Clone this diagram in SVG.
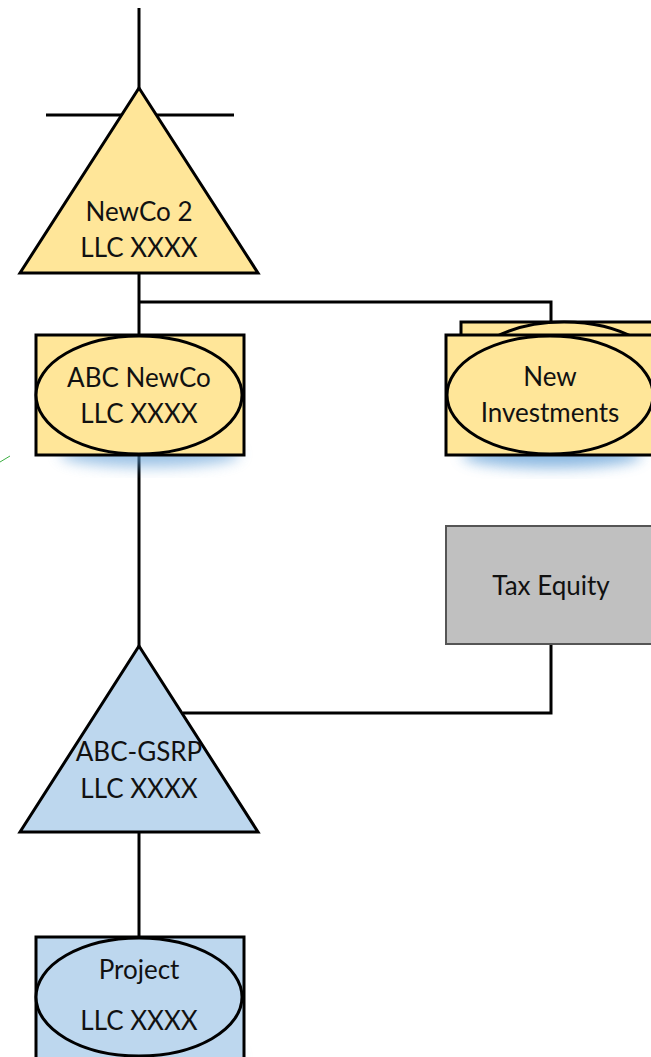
<svg xmlns="http://www.w3.org/2000/svg" width="651" height="1057" viewBox="0 0 651 1057">
  <style>
    .wire { fill: none; stroke: #000; stroke-width: 3; }
    .edge { stroke: #000; stroke-width: 3; }
    .gold { fill: #FFE699; }
    .sky { fill: #BDD7EE; }
    .label { font-family: Lato, "Open Sans", sans-serif; font-size: 26px; fill: #111; text-anchor: middle; }
  </style>
  <defs>
    <filter id="glow" x="-30%" y="-40%" width="160%" height="180%">
      <feGaussianBlur stdDeviation="7"/>
    </filter>
  </defs>
  <rect width="651" height="1057" fill="#fff"/>

  <!-- connectors -->
  <g id="connectors">
    <line class="wire" x1="139" y1="8" x2="139" y2="90"/>
    <line class="wire" x1="46" y1="115" x2="234" y2="115"/>
    <line class="wire" x1="139" y1="273" x2="139" y2="335"/>
    <polyline class="wire" points="139,302 551,302 551,322"/>
    <line class="wire" x1="139" y1="455" x2="139" y2="647"/>
    <polyline class="wire" points="183,713 551,713 551,644"/>
    <line class="wire" x1="139" y1="832" x2="139" y2="937"/>
    <line x1="0" y1="462" x2="10" y2="456" stroke="#3CB043" stroke-width="1"/>
  </g>

  <!-- NewCo 2 -->
  <g id="newco2">
    <polygon class="gold edge" points="139,88 258,273 20,273"/>
    <text class="label" x="139" y="221">NewCo 2</text>
    <text class="label" x="139" y="257">LLC XXXX</text>
  </g>

  <!-- ABC NewCo -->
  <g id="abc-newco">
    <ellipse cx="150" cy="454" rx="90" ry="13" fill="#5B9BD5" opacity="0.6" filter="url(#glow)"/>
    <rect class="gold edge" x="36" y="335" width="208" height="120"/>
    <ellipse class="gold edge" cx="139" cy="395" rx="103" ry="59"/>
    <text class="label" x="139" y="387">ABC NewCo</text>
    <text class="label" x="139" y="423">LLC XXXX</text>
  </g>

  <!-- New Investments (stacked) -->
  <g id="new-investments">
    <ellipse cx="552" cy="455" rx="90" ry="13" fill="#5B9BD5" opacity="0.7" filter="url(#glow)"/>
    <rect class="gold edge" x="461" y="322" width="200" height="120"/>
    <ellipse class="gold edge" cx="564" cy="381" rx="103" ry="59"/>
    <rect class="gold edge" x="446" y="335" width="215" height="120"/>
    <ellipse class="gold edge" cx="550" cy="395" rx="103" ry="59"/>
    <text class="label" x="550" y="386">New</text>
    <text class="label" x="550" y="422">Investments</text>
  </g>

  <!-- Tax Equity -->
  <g id="tax-equity">
    <rect x="446" y="526" width="215" height="118" fill="#C0C0C0" stroke="#555" stroke-width="2"/>
    <text class="label" x="551" y="595">Tax Equity</text>
  </g>

  <!-- ABC-GSRP -->
  <g id="abc-gsrp">
    <polygon class="sky edge" points="139,646 258,832 20,832"/>
    <text class="label" x="139" y="761">ABC-GSRP</text>
    <text class="label" x="139" y="798">LLC XXXX</text>
  </g>

  <!-- Project -->
  <g id="project">
    <ellipse cx="150" cy="1056" rx="90" ry="13" fill="#5B9BD5" opacity="0.6" filter="url(#glow)"/>
    <rect class="sky edge" x="36" y="937" width="208" height="125"/>
    <ellipse class="sky edge" cx="139" cy="997" rx="103" ry="59"/>
    <text class="label" x="139" y="979">Project</text>
    <text class="label" x="139" y="1030">LLC XXXX</text>
  </g>
</svg>
